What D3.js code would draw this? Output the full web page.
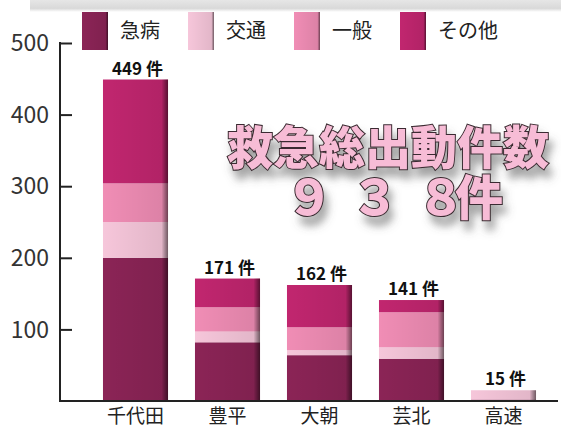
<!DOCTYPE html>
<html>
<head>
<meta charset="utf-8">
<script src="https://cdn.jsdelivr.net/npm/d3@7"></script>
<style>
  body { margin: 0; background: #fff; }
  text { font-family: "Noto Sans CJK JP", "Noto Sans", sans-serif; }
</style>
</head>
<body>
<div id="chart"></div>
<script>
// data
var areas = ["千代田", "豊平", "大朝", "芸北", "高速"]
var kinds = ["急病", "交通", "一般", "その他"]
var kyubyo = [200, 82, 64, 59, 2]
var kotsu  = [50, 15, 7, 16, 13]
var ippan  = [54, 34, 32, 49, 0]
var sonota = [145, 40, 59, 17, 0]
var yTicks = [100, 200, 300, 400, 500]
var colors = ["#8b2456", "#f6c6da", "#f08db5", "#c1266f"]

var width = 561, height = 434

var svg = d3.select("#chart").append("svg")
  .attr("width", width)
  .attr("height", height)

var defs = svg.append("defs")

var hdr = defs.append("linearGradient").attr("id", "hdr").attr("x1", 0).attr("y1", 0).attr("x2", 0).attr("y2", 1)
hdr.append("stop").attr("offset", "0%").attr("stop-color", "#e6e6e6")
hdr.append("stop").attr("offset", "70%").attr("stop-color", "#d9d9d9")
hdr.append("stop").attr("offset", "100%").attr("stop-color", "#ffffff")

var shade = defs.append("linearGradient").attr("id", "shade")
shade.append("stop").attr("offset", "0%").attr("stop-color", "#000").attr("stop-opacity", 0)
shade.append("stop").attr("offset", "90%").attr("stop-color", "#000").attr("stop-opacity", 0.08)
shade.append("stop").attr("offset", "100%").attr("stop-color", "#000").attr("stop-opacity", 0.55)

var f = defs.append("filter").attr("id", "drop").attr("x", "-10%").attr("y", "-20%").attr("width", "130%").attr("height", "160%")
f.append("feDropShadow").attr("dx", 4).attr("dy", 9).attr("stdDeviation", 4)
  .attr("flood-color", "#555").attr("flood-opacity", 0.55)

// grey strip at the top
svg.append("rect")
  .attr("x", 30).attr("y", 0).attr("width", 531).attr("height", 12)
  .attr("fill", "url(#hdr)")

var x = d3.scaleBand()
  .domain(areas)
  .range([89.5, 549.5])
  .paddingInner(0.293)
  .paddingOuter(0.1465)

var y = d3.scaleLinear()
  .domain([0, 500])
  .range([401, 43])

// stacked
var rows = areas.map(function(a, i) {
  return {area: a, "急病": kyubyo[i], "交通": kotsu[i], "一般": ippan[i], "その他": sonota[i]}
})
var series = d3.stack().keys(kinds)(rows)

var layers = svg.append("g").selectAll("g")
  .data(series)
  .enter()
  .append("g")
  .attr("fill", function(d, i) { return colors[i] })

layers.selectAll("rect")
  .data(function(d) { return d })
  .enter()
  .append("rect")
  .attr("x", function(d) { return x(d.data.area) })
  .attr("y", function(d) { return y(d[1]) })
  .attr("width", x.bandwidth())
  .attr("height", function(d) { return y(d[0]) - y(d[1]) })

// slight edge shading
svg.append("g").selectAll("rect")
  .data(rows)
  .enter()
  .append("rect")
  .attr("x", function(d) { return x(d.area) })
  .attr("y", function(d, i) { return y(kyubyo[i] + kotsu[i] + ippan[i] + sonota[i]) })
  .attr("width", x.bandwidth())
  .attr("height", function(d, i) { return y(0) - y(kyubyo[i] + kotsu[i] + ippan[i] + sonota[i]) })
  .attr("fill", "url(#shade)")

// value labels
svg.append("g").selectAll("text")
  .data(rows)
  .enter()
  .append("text")
  .attr("x", function(d) { return x(d.area) + x.bandwidth() / 2 + 2 })
  .attr("y", function(d, i) { return y(kyubyo[i] + kotsu[i] + ippan[i] + sonota[i]) - 5 })
  .attr("text-anchor", "middle")
  .attr("font-size", 17)
  .attr("font-weight", "bold")
  .attr("fill", "#111")
  .text(function(d, i) { return (kyubyo[i] + kotsu[i] + ippan[i] + sonota[i]) + " 件" })

// y axis
var yAxis = svg.append("g")
  .attr("transform", "translate(60,0)")
  .call(d3.axisRight(y).tickValues(yTicks).tickSize(12).tickFormat(""))
yAxis.select(".domain").remove()
yAxis.selectAll("line").attr("stroke", "#222").attr("stroke-width", 2)

svg.append("line")
  .attr("x1", 60).attr("x2", 60)
  .attr("y1", y(500) - 1).attr("y2", y(0) + 1)
  .attr("stroke", "#222").attr("stroke-width", 2)
svg.append("line")
  .attr("x1", 59).attr("x2", 558)
  .attr("y1", y(0)).attr("y2", y(0))
  .attr("stroke", "#222").attr("stroke-width", 2)

svg.append("g").selectAll("text")
  .data(yTicks)
  .enter()
  .append("text")
  .attr("x", 49)
  .attr("y", function(d) { return y(d) })
  .attr("dy", "0.36em")
  .attr("text-anchor", "end")
  .attr("font-size", 23)
  .attr("font-family", "Liberation Sans")
  .attr("fill", "#333")
  .text(function(d) { return d })

// x labels
var xAxis = svg.append("g")
  .attr("transform", "translate(0," + y(0) + ")")
  .call(d3.axisBottom(x).tickSize(0).tickPadding(8))
xAxis.select(".domain").remove()
xAxis.selectAll("text")
  .attr("font-size", 19)
  .attr("fill", "#222")
  .attr("font-family", "Noto Sans CJK JP")

// legend
var legend = svg.append("g").selectAll("g")
  .data(kinds)
  .enter()
  .append("g")
  .attr("transform", function(d, i) { return "translate(" + (82 + i * 106) + ",12)" })

legend.append("rect")
  .attr("width", 26).attr("height", 38)
  .attr("fill", function(d, i) { return colors[i] })
legend.append("rect")
  .attr("width", 26).attr("height", 38)
  .attr("fill", "url(#shade)")

legend.append("text")
  .attr("x", 38)
  .attr("y", 19)
  .attr("dy", "0.36em")
  .attr("font-size", 20)
  .attr("fill", "#222")
  .text(function(d) { return d })

// big title
var title = svg.append("g").attr("filter", "url(#drop)")
title.append("text")
  .attr("x", 388).attr("y", 164)
  .attr("text-anchor", "middle")
  .attr("font-size", 46)
  .attr("font-weight", "900")
  .attr("fill", "#f7bcd6")
  .attr("stroke", "#3a2a30")
  .attr("stroke-width", 2)
  .attr("paint-order", "stroke")
  .text("救急総出動件数")
var total = title.append("text")
  .attr("x", 394).attr("y", 215)
  .attr("text-anchor", "middle")
  .attr("font-size", 48)
  .attr("font-weight", "900")
  .attr("fill", "#f7bcd6")
  .attr("stroke", "#3a2a30")
  .attr("stroke-width", 2)
  .attr("paint-order", "stroke")
total.append("tspan").text("９")
total.append("tspan").attr("dx", 18).text("３")
total.append("tspan").attr("dx", 18).text("８")
total.append("tspan").attr("dx", -10).text("件")
</script>
</body>
</html>
